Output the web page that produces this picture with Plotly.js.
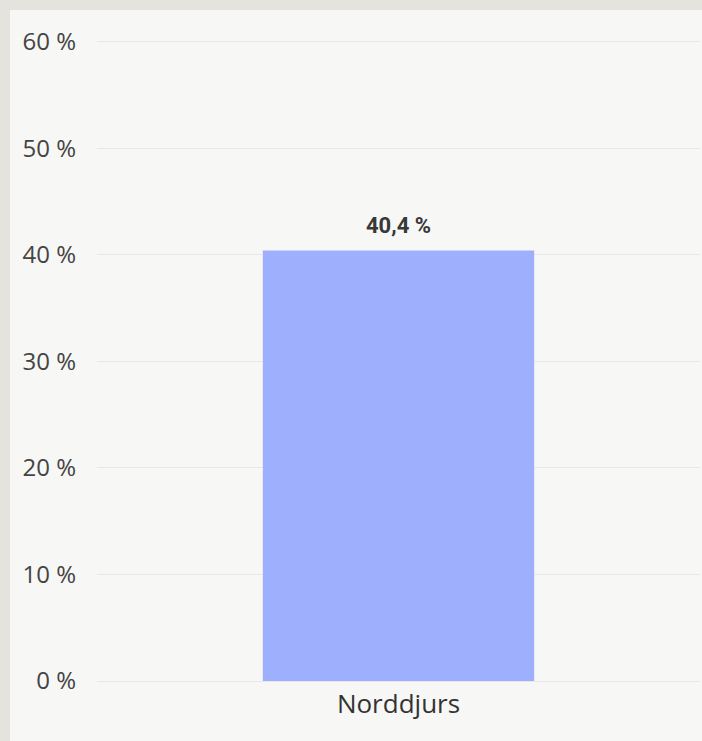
<!DOCTYPE html>
<html>
<head>
<meta charset="utf-8">
<script src="https://cdn.plot.ly/plotly-3.0.1.min.js"></script>
<style>
html,body{margin:0;padding:0;background:#e5e4dc;width:702px;height:741px;overflow:hidden;}
#chart{position:absolute;left:10px;top:10px;width:692px;height:731px;}
</style>
</head>
<body>
<div id="chart"></div>
<script>
const categories = ["Norddjurs"];
const values = [40.4];
const valueLabels = ["40,4 %"];
const tickValues = [0, 10, 20, 30, 40, 50, 60];
const tickLabels = ["0 %", "10 %", "20 %", "30 %", "40 %", "50 %", "60 %"];

const trace = {
  type: "bar",
  x: categories,
  y: values,
  marker: {color: "#9eaffe"},
  hoverinfo: "none"
};

const annotations = categories.map((c, i) => ({
  x: c,
  y: values[i],
  xref: "x",
  yref: "y",
  text: valueLabels[i],
  showarrow: false,
  yanchor: "bottom",
  yshift: 11,
  font: {family: "Roboto", size: 22, color: "#383838", weight: "bold"}
}));

const layout = {
  width: 692,
  height: 731,
  margin: {l: 87, r: 2, t: 21, b: 60},
  paper_bgcolor: "#f7f7f5",
  plot_bgcolor: "#f7f7f5",
  bargap: 0.55,
  showlegend: false,
  annotations: annotations,
  xaxis: {
    showgrid: false,
    zeroline: false,
    showline: false,
    tickfont: {family: "Open Sans", size: 26, color: "#333333"},
    ticks: "",
    ticklabelstandoff: 5
  },
  yaxis: {
    range: [0, 61],
    tickvals: tickValues,
    ticktext: tickLabels,
    showgrid: true,
    gridcolor: "#e8e8e6",
    gridwidth: 1,
    zeroline: true,
    zerolinecolor: "#e8e8e6",
    showline: false,
    ticks: "",
    ticklabelstandoff: 20,
    tickfont: {family: "Open Sans", size: 24, color: "#444444"}
  }
};

Plotly.newPlot("chart", [trace], layout, {displayModeBar: false, staticPlot: true});
</script>
</body>
</html>
